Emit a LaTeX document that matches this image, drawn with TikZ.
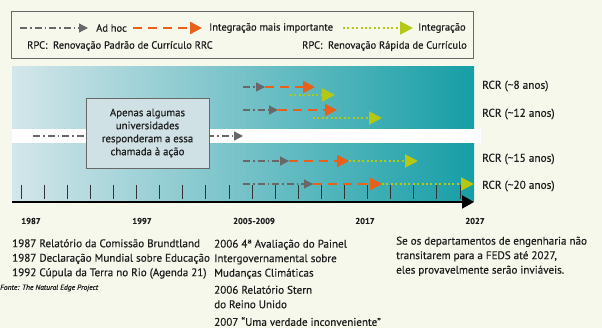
\documentclass[tikz,border=0pt]{standalone}
\usepackage{fontspec}
\setmainfont{PT Sans}[FakeBold=0.5]
\usepackage{tikz}
\usetikzlibrary{arrows,arrows.meta,shapes,positioning}
\definecolor{tlcream}{RGB}{247,248,236}
\definecolor{tlgray}{RGB}{104,104,104}
\definecolor{tlorange}{RGB}{233,96,26}
\definecolor{tlgreen}{RGB}{181,200,20}
\definecolor{tlbandleft}{RGB}{212,230,234}
\definecolor{tlbandright}{RGB}{22,158,166}
\definecolor{tlbox}{RGB}{207,225,229}
\definecolor{tltext}{RGB}{30,30,30}
\tikzstyle{adhoc} = [draw=tlgray, line width=1.3pt, dash pattern=on 7pt off 3pt on 1.5pt off 3pt, -{Triangle[length=9pt,width=9pt]}]
\tikzstyle{maisimp} = [draw=tlorange, line width=2.4pt, dash pattern=on 9pt off 6pt, -{Triangle[length=12pt,width=12pt]}]
\tikzstyle{integ} = [draw=tlgreen, line width=2pt, dash pattern=on 2pt off 2.4pt, -{Triangle[length=13pt,width=13pt]}]
\tikzstyle{legtext} = [font=\fontsize{10.5}{12}\selectfont, text=tltext, anchor=west, inner sep=0pt]
\tikzstyle{rcrlabel} = [font=\fontsize{11.3}{13}\selectfont, text=tltext, anchor=west, inner sep=0pt]
\tikzstyle{yearlabel} = [font=\bfseries\fontsize{8.5}{10}\selectfont, text=tltext, inner sep=0pt]
\tikzstyle{eventtext} = [font=\fontsize{11.1}{14.5}\selectfont, text=tltext, anchor=north west, align=left, inner sep=0pt]
\tikzstyle{infobox} = [draw=tlgray, fill=tlbox, line width=0.8pt, align=center, minimum width=123pt, minimum height=70pt, font=\fontsize{10.8}{13}\selectfont, text=tltext]
\tikzstyle{tick} = [draw=black!80, line width=0.8pt]

\begin{document}
\begin{tikzpicture}[x=1pt, y=-1pt]
\useasboundingbox (0,0) rectangle (602,328);
\fill[tlcream] (0,0) rectangle (602,328);

% legend
\draw[tlgray, line width=0.8pt] (11,11) rectangle (473,58);
\coordinate (lad0) at (20,28);
\node[legtext] (ladhoc) at (96,28) {Ad hoc};
\draw[adhoc] (lad0) -- ([xshift=-8pt]ladhoc.west);
\coordinate (lmi0) at (133,28);
\node[legtext] (lmais) at (209,28) {Integração mais importante};
\draw[maisimp] (lmi0) -- ([xshift=-7pt]lmais.west);
\coordinate (lin0) at (343,28);
\node[legtext] (linteg) at (418,28) {Integração};
\draw[integ] (lin0) -- ([xshift=-5pt]linteg.west);
\node[legtext] (lrpc) at (27,46) {RPC:\ \ Renovação Padrão de Currículo RRC};
\node[legtext, anchor=east] (lrrc) at (467,46) {RPC:\ \ Renovação Rápida de Currículo};

% band and white stripe
\shade[left color=tlbandleft, right color=tlbandright] (12,67) rectangle (474,202);
\fill[white] (12,129) rectangle (481,143);

% ticks and time axis
\foreach \k in {0,...,19}
  \draw[tick] ({21+23.1*\k},185) -- ++(0,14);
\coordinate (ax0) at (12,202);
\coordinate (ax1) at (474,202);
\draw[black, line width=2pt, -{Triangle[length=12pt,width=13pt]}] (ax0) -- (ax1);

% RCR ~8
\coordinate (s1) at (243,87); \coordinate (g1) at (265,87); \coordinate (o1) at (315,87);
\coordinate (v1s) at (290,95); \coordinate (v1) at (335,95);
\draw[adhoc] (s1) -- (g1);
\draw[maisimp] (g1) -- (o1);
\draw[integ] (v1s) -- (v1);
% RCR ~12
\coordinate (s2) at (243,110); \coordinate (g2) at (278,110); \coordinate (o2) at (337,110);
\coordinate (v2s) at (313,118); \coordinate (v2) at (382,118);
\draw[adhoc] (s2) -- (g2);
\draw[maisimp] (g2) -- (o2);
\draw[integ] (v2s) -- (v2);
% RCR ~15
\coordinate (s3) at (243,161); \coordinate (g3) at (289,161); \coordinate (o3) at (349,161);
\coordinate (v3) at (418,161);
\draw[adhoc] (s3) -- (g3);
\draw[maisimp] (g3) -- (o3);
\draw[integ] (o3) -- (v3);
% RCR ~20
\coordinate (s4) at (243,184); \coordinate (g4) at (313,184); \coordinate (o4) at (382,184);
\coordinate (v4) at (474,184);
\draw[adhoc] (s4) -- (g4);
\draw[maisimp] (g4) -- (o4);
\draw[integ] (o4) -- (v4);

% stripe arrow and box
\coordinate (st0) at (33,136);
\coordinate (st1) at (243,136);
\draw[adhoc] (st0) -- (st1);
\node[infobox] (resp) at (147.5,133) {Apenas algumas\\universidades\\responderam a essa\\chamada à ação};

% RCR labels
\node[rcrlabel] (rcr8) at (482,86) {RCR (\textasciitilde8 anos)};
\node[rcrlabel] (rcr12) at (482,114) {RCR (\textasciitilde12 anos)};
\node[rcrlabel] (rcr15) at (482,159) {RCR (\textasciitilde15 anos)};
\node[rcrlabel] (rcr20) at (482,186) {RCR (\textasciitilde20 anos)};

% years
\node[yearlabel] (y1987) at (31,221) {1987};
\node[yearlabel] (y1997) at (142,221) {1997};
\node[yearlabel] (y2005) at (254,221) {2005-2009};
\node[yearlabel] (y2017) at (365,221) {2017};
\node[yearlabel] (y2027) at (475,221) {2027};

% events
\node[eventtext] (brundt) at (12,239) {1987 Relatório da Comissão Brundtland\\1987 Declaração Mundial sobre Educação\\1992 Cúpula da Terra no Rio (Agenda 21)};
\node[eventtext] (ipcc) at (214,239.5) {2006 4ª Avaliação do Painel\\Intergovernamental sobre\\Mudanças Climáticas};
\node[eventtext] (stern) at (214,285.5) {2006 Relatório Stern\\do Reino Unido};
\node[eventtext] (gore) at (214,317) {2007 “Uma verdade inconveniente”};
\node[eventtext] (feds) at (396,236.5) {Se os departamentos de engenharia não\\transitarem para a FEDS até 2027,\\eles provavelmente serão inviáveis.};
\node[font=\itshape\fontsize{7.5}{8}\selectfont, text=tltext, anchor=west, inner sep=0pt] (fonte) at (0,288) {Fonte: The Natural Edge Project};
\end{tikzpicture}
\end{document}
